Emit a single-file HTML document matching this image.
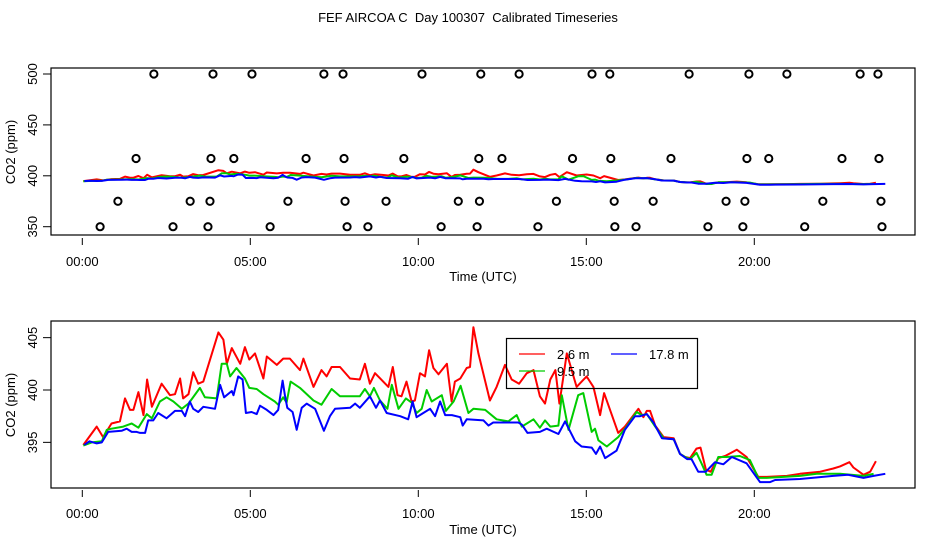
<!DOCTYPE html>
<html><head><meta charset="utf-8">
<style>
body{margin:0;background:#fff;}
svg{display:block;font-family:"Liberation Sans",sans-serif;}
text{fill:#000;}
</style></head>
<body>
<svg id="chart" width="936" height="540" viewBox="0 0 936 540" xmlns="http://www.w3.org/2000/svg">
<rect x="0" y="0" width="936" height="540" fill="#fff"/>
<text x="468" y="22" font-size="13" text-anchor="middle" style="white-space:pre">FEF AIRCOA C  Day 100307  Calibrated Timeseries</text>
<g id="topPanel"></g>
<g id="botPanel"></g>
</svg>
<script>
// ---- data (hours UTC, ppm) ----
const redH=[0.03,0.43,0.62,0.87,1.12,1.27,1.42,1.52,1.67,1.82,1.93,2.07,2.36,2.61,2.76,2.91,3.0,3.16,3.3,3.45,3.6,4.05,4.2,4.3,4.45,4.7,4.84,4.97,5.14,5.39,5.49,5.79,5.98,6.18,6.48,6.58,6.88,7.12,7.27,7.42,7.67,7.97,8.26,8.41,8.56,8.71,9.11,9.24,9.38,9.5,9.65,9.8,9.9,10.05,10.2,10.32,10.45,10.6,10.85,10.99,11.09,11.25,11.44,11.54,11.64,11.79,12.13,12.33,12.58,12.78,13.0,13.23,13.43,13.62,13.77,13.93,14.08,14.2,14.42,14.71,15.01,15.21,15.41,15.53,15.95,16.15,16.55,16.7,16.8,16.9,17.05,17.3,17.6,17.79,17.94,18.09,18.28,18.4,18.56,18.7,18.93,19.13,19.48,19.77,20.12,20.37,20.97,21.36,21.96,22.35,22.55,22.83,22.95,23.25,23.45,23.62];
const redV=[394.75,396.5,395.5,396.8,397,399.2,398.1,398.1,399.8,397.6,401,398.4,400.6,399.5,399.6,401.1,399.2,399.6,401.7,400.6,400.8,405.5,404.8,402.5,404,402.5,404.1,402.9,403.5,401.1,403.2,402.4,403,403,401.9,403,400.3,401.9,401.3,402.2,402.2,401.1,401,402.5,400.6,401.6,400.3,402.2,399.5,399.4,400.8,398.9,399,401.6,401.3,403.8,402.1,401.5,402.5,398.9,400.8,401.1,402.1,402.2,406,403.5,399,400.3,402.4,401,400.6,401.6,401.9,399.4,398.7,401,401.9,398.7,403.5,400.3,401.3,400.3,397.6,399.7,395.9,396.5,398.2,397.4,398,398,396.6,395.5,395.4,393.9,393.6,393.5,394.4,394.5,392.4,392.2,393.5,393.7,394.3,393.6,391.7,391.7,391.8,392,392.2,392.5,392.7,393.1,392.6,391.9,392.2,393.2];
const greenH=[0.03,0.28,0.58,0.73,0.87,1.22,1.47,1.67,1.92,2.07,2.31,2.51,2.71,2.96,3.16,3.5,3.65,4.0,4.15,4.3,4.4,4.59,4.84,4.97,5.19,5.39,5.73,5.83,5.98,6.08,6.2,6.48,6.88,7.12,7.42,7.67,8.26,8.41,8.56,8.68,8.86,9.08,9.21,9.41,9.63,9.8,9.95,10.1,10.25,10.4,10.7,10.82,11.05,11.26,11.49,11.64,11.99,12.33,12.68,12.93,13.08,13.43,13.62,13.77,13.93,14.17,14.27,14.47,14.76,14.91,15.16,15.26,15.36,15.61,15.95,16.2,16.5,16.65,16.8,17.05,17.3,17.6,17.79,17.94,18.09,18.28,18.43,18.58,18.73,18.93,19.18,19.57,19.87,20.12,20.37,20.87,21.36,21.86,22.55,23.25,23.55];
const greenV=[394.7,395.0,395.1,396.2,396.3,396.5,396.8,396.4,397.7,397.3,398.9,399.3,398.9,398.2,398.7,400.2,399.3,399.2,402.5,402.5,401.3,402.1,401.1,400.2,400.1,399.6,398.9,398.6,399.3,398.8,400.8,400.2,399.0,398.6,400.1,399.4,399.4,400.1,399.4,400.2,399.0,398.2,400.5,398.2,399.2,398.8,397.8,398.2,400.0,398.9,399.5,398.0,398.9,400.4,397.8,398.2,398.1,397.2,397.0,397.6,396.5,397.2,396.4,397.1,396.5,396.6,399.5,396.2,399.5,399.7,396.0,396.3,395.2,394.6,395.5,396.5,397.9,397.6,397.7,396.5,395.4,395.3,393.9,393.6,393.4,394.0,393.0,391.9,391.9,393.6,393.6,393.7,393.3,391.6,391.6,391.7,391.8,392.0,392.0,391.8,392.0];
const blueH=[0.06,0.21,0.43,0.58,0.77,1.17,1.32,1.47,1.62,1.72,1.87,1.96,2.11,2.26,2.51,2.76,2.96,3.06,3.2,3.3,3.45,3.6,3.95,4.1,4.22,4.45,4.5,4.64,4.77,4.87,5.04,5.19,5.29,5.49,5.69,5.83,5.96,6.03,6.1,6.26,6.38,6.53,6.68,6.93,7.19,7.37,7.52,7.97,8.12,8.26,8.56,8.74,8.86,9.06,9.46,9.7,9.83,9.95,10.15,10.35,10.5,10.65,10.8,11.0,11.25,11.32,11.44,11.94,12.09,12.23,12.98,13.08,13.25,13.62,13.82,14.17,14.37,14.67,14.86,15.16,15.29,15.41,15.56,15.9,16.15,16.45,16.6,16.8,17.0,17.25,17.6,17.79,18.0,18.13,18.33,18.56,18.83,19.08,19.33,19.77,20.17,20.47,20.62,21.36,22.35,22.79,23.25,23.55,23.9];
const blueV=[394.75,395.1,394.9,395.0,396.0,396.1,396.3,396.0,396.0,395.9,395.9,397.1,397.1,397.8,397.3,398.0,398.0,397.5,398.9,398.2,397.9,398.4,398.2,400.5,399.3,399.9,399.5,401.3,401.0,397.8,397.9,397.7,398.5,398.1,397.6,398.1,400.9,399.5,398.3,397.9,396.2,398.3,398.7,398.2,396.1,397.5,398.2,398.3,398.7,398.3,399.4,398.3,399.0,397.8,397.5,397.2,398.9,397.4,397.8,398.2,397.5,398.9,397.6,397.6,397.4,396.6,397.2,397.1,396.6,396.9,396.9,396.7,395.9,396.0,396.3,395.8,397.0,395.1,394.6,394.5,393.9,394.6,393.5,394.2,396.2,397.5,397.5,397.7,396.9,395.4,395.3,393.9,393.4,393.4,392.2,392.2,393.1,392.9,393.6,393.0,391.2,391.2,391.4,391.5,391.8,391.9,391.6,391.8,392.0];
// flag circles (top panel)
const flag500=[2.13,3.89,5.05,7.19,7.76,10.11,11.86,13.0,15.17,15.7,18.06,19.84,20.97,23.15,23.68];
const flag417=[1.60,3.83,4.51,6.66,7.79,9.57,11.8,12.49,14.59,15.73,17.52,19.78,20.43,22.61,23.71];
const flag375=[1.06,3.21,3.80,6.12,7.82,9.04,11.19,11.82,14.11,15.83,16.99,19.16,19.72,22.04,23.77];
const flag350=[0.53,2.70,3.74,5.59,7.88,8.50,10.68,11.75,13.56,15.85,16.48,18.62,19.66,21.5,23.80];
const xTickLabels=["00:00","05:00","10:00","15:00","20:00"];
const topYTicks=[350,400,450,500];
const botYTicks=[395,400,405];

const NS="http://www.w3.org/2000/svg";
function mk(parent,tag,attrs){const e=document.createElementNS(NS,tag);for(const k in attrs)e.setAttribute(k,attrs[k]);parent.appendChild(e);return e;}
const xS=h=>82.3+h*33.6;
const topY=v=>226.7-(v-350)*(152.7/150);
const botY=v=>390-(v-400)*10.47;

function panel(g,box,yS,yTicks,tickTop,labelY,titleY,yTitleY){
  const r=mk(g,'rect',{x:box[0],y:box[1],width:box[2]-box[0],height:box[3]-box[1],fill:'none',stroke:'#000','stroke-width':1.2});
  
  
  xTickLabels.forEach((l,i)=>{
    const x=xS(i*5);
    const t=mk(g,'line',{x1:x,x2:x,y1:tickTop,y2:tickTop+7,stroke:'#000'});
    
    
    const tx=mk(g,'text',{x:x,y:labelY,'font-size':13,'text-anchor':'middle'});tx.textContent=l;
    
    
  });
  yTicks.forEach(v=>{
    const y=yS(v);
    const t=mk(g,'line',{x1:box[0]-8,x2:box[0],y1:y,y2:y,stroke:'#000'});
    
    
    const tx=mk(g,'text',{x:0,y:0,'font-size':13,'text-anchor':'middle',transform:`translate(37,${y}) rotate(-90)`});tx.textContent=v;
    
    
  });
  const xt=mk(g,'text',{x:(box[0]+box[2])/2,y:titleY,'font-size':13,'text-anchor':'middle'});xt.textContent='Time (UTC)';
  
  
  const yt=mk(g,'text',{x:0,y:0,'font-size':13,'text-anchor':'middle',transform:`translate(15,${yTitleY}) rotate(-90)`});yt.textContent='CO2 (ppm)';
  
  
}
function series(g,H,V,yS,color,name){
  const pts=H.map((h,i)=>xS(h).toFixed(1)+','+yS(V[i]).toFixed(1)).join(' ');
  const p=mk(g,'polyline',{points:pts,fill:'none',stroke:color,'stroke-width':2,'stroke-linejoin':'round'});
  
  
}
const topG=document.getElementById('topPanel'), botG=document.getElementById('botPanel');
panel(topG,[51,68,915,235],topY,topYTicks,238,266,281,152);
series(topG,redH,redV,topY,'#ff0000','series-2-6m-top');
series(topG,greenH,greenV,topY,'#00cc00','series-9-5m-top');
series(topG,blueH,blueV,topY,'#0000ff','series-17-8m-top');
[[flag500,500],[flag417,417],[flag375,375],[flag350,350]].forEach(([arr,v])=>{
  arr.forEach(h=>{
    const c=mk(topG,'circle',{cx:xS(h),cy:topY(v),r:3.6,fill:'none',stroke:'#000','stroke-width':2});
    
    
  });
});
panel(botG,[51,321,915,488],botY,botYTicks,490,518,534,405);
series(botG,redH,redV,botY,'#ff0000','series-2-6m');
series(botG,greenH,greenV,botY,'#00cc00','series-9-5m');
series(botG,blueH,blueV,botY,'#0000ff','series-17-8m');
// legend
const lg=mk(botG,'g',{});


mk(lg,'rect',{x:506.5,y:338.5,width:191,height:50,fill:'none',stroke:'#000','stroke-width':1.2});
[['#ff0000','2.6 m',519,354],['#0000ff','17.8 m',611,354],['#00cc00','9.5 m',519,371]].forEach(([c,l,x,y])=>{
  const e=mk(lg,'line',{x1:x,x2:x+26,y1:y,y2:y,stroke:c,'stroke-width':1.2});
  
  
  const t=mk(lg,'text',{x:x+38,y:y+5,'font-size':13});t.textContent=l;
  
  
});
</script>
</body></html>
